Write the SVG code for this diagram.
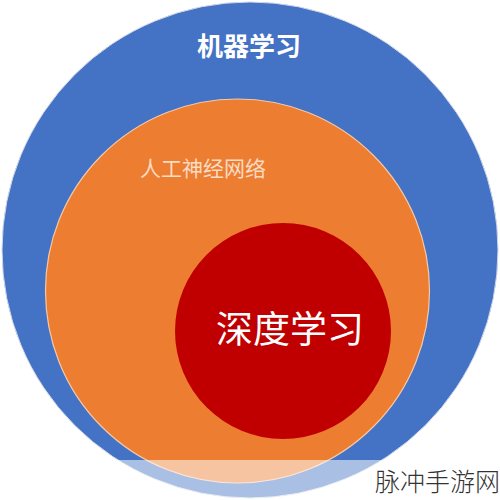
<svg xmlns="http://www.w3.org/2000/svg" width="500" height="500" viewBox="0 0 500 500">
<style>
.lbl{font-family:"Noto Sans CJK SC","Noto Sans CJK TC",sans-serif;text-anchor:middle}
.wm{font-family:"Noto Sans CJK SC",sans-serif}
</style>
<rect x="0" y="0" width="500" height="500" fill="#ffffff"/>
<g id="ml">
<circle cx="250" cy="250" r="248" fill="#4472C4" stroke="#d0d8e8" stroke-width="1"/>
<text class="lbl" x="249" y="56" font-size="26" font-weight="bold" fill="#ffffff">机器学习</text>
</g>
<g id="ann">
<circle cx="237.5" cy="291" r="192" fill="#ED7D31" stroke="#f3c9a8" stroke-width="1.2"/>
<text class="lbl" x="203" y="176" font-size="21" fill="#FADBC4">人工神经网络</text>
</g>
<g id="dl">
<circle cx="283" cy="331" r="108" fill="#C00000"/>
<text class="lbl" x="290" y="343" font-size="37" fill="#ffffff">深度学习</text>
</g>
<rect x="0" y="460" width="500" height="40" fill="#ffffff" opacity="0.55"/>
<text class="wm" x="375" y="491" font-size="25" font-weight="300" fill="#333333">脉冲手游网</text>
</svg>
